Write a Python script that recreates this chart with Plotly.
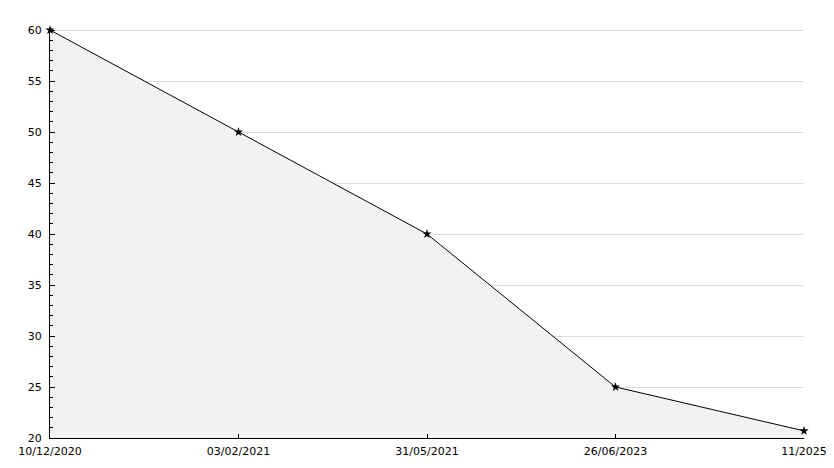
import plotly.graph_objects as go

categories = ["10/12/2020", "03/02/2021", "31/05/2021", "26/06/2023", "11/2025"]
values = [60, 50, 40, 25, 20.7]
y_ticks = [20, 25, 30, 35, 40, 45, 50, 55, 60]

fig = go.Figure()
fig.add_trace(go.Scatter(
    x=categories, y=values, mode="lines+markers",
    fill="tozeroy", fillcolor="#f2f2f2",
    line=dict(color="black", width=1),
    marker=dict(symbol="star", size=7, color="black"),
    cliponaxis=False,
))

fig.update_layout(
    width=834, height=468,
    margin=dict(l=42, r=38, t=21, b=38),
    paper_bgcolor="white", plot_bgcolor="white",
    showlegend=False,
    font=dict(family="DejaVu Sans", size=10, color="black"),
)
fig.update_xaxes(
    type="category", range=[0, 4], automargin=False,
    showgrid=False, showline=True, linecolor="black", linewidth=1,
    ticks="inside", ticklen=4, tickcolor="black",
    zeroline=False, tickfont=dict(size=11), ticklabelstandoff=3,
)
fig.update_yaxes(
    range=[20, 60.1], tickvals=y_ticks, automargin=False,
    showgrid=True, gridcolor="#dddddd", gridwidth=1,
    showline=True, linecolor="black", linewidth=1,
    ticks="inside", ticklen=5, tickcolor="black",
    minor=dict(dtick=1, ticks="inside", ticklen=3, tickcolor="black", showgrid=False),
    zeroline=False, tickfont=dict(size=11), ticklabelstandoff=5,
)
fig.write_html("out.html")
